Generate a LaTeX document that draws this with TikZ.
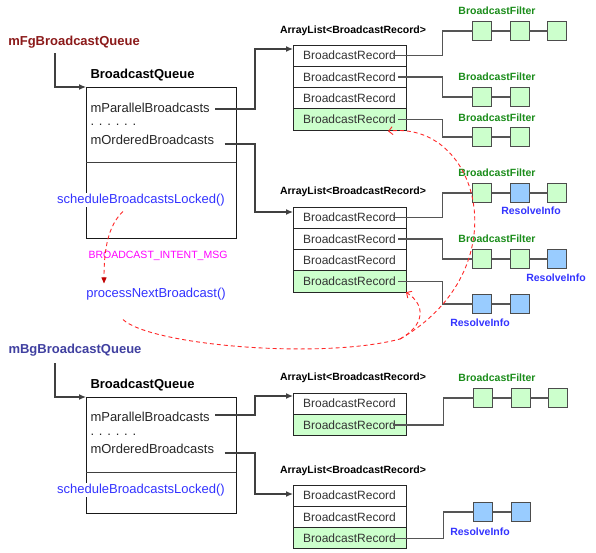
\documentclass[tikz,border=0pt]{standalone}
\usepackage{fontspec}
\setmainfont{Liberation Sans}
\usetikzlibrary{arrows.meta,positioning,calc}

\definecolor{fgred}{RGB}{139,26,26}
\definecolor{bgblue}{RGB}{64,64,160}
\definecolor{methodblue}{RGB}{51,51,255}
\definecolor{filtergreen}{RGB}{26,140,26}
\definecolor{msgmagenta}{RGB}{255,0,255}
\definecolor{recgreen}{RGB}{204,255,204}
\definecolor{infoblue}{RGB}{153,204,255}
\definecolor{flowred}{RGB}{255,40,40}
\definecolor{tipred}{RGB}{192,0,0}
\definecolor{linkgrey}{RGB}{85,85,85}

\tikzset{every picture/.style={line width=1pt}}
\tikzset{
  qbox/.style={draw=black!90, minimum width=150, inner sep=0, outer sep=0},
  rec/.style={draw=black!85, fill=white, minimum width=113, minimum height=21.3, inner sep=0, outer sep=0, text=black!80, font=\fontsize{12}{14}\selectfont},
  greenrec/.style={fill=recgreen},
  filt/.style={draw=black!70, fill=recgreen, minimum size=19, inner sep=0, outer sep=0},
  info/.style={filt, fill=infoblue},
  member/.style={inner sep=1, text=black!85, font=\fontsize{13}{15}\selectfont},
  method/.style={inner sep=1, fill=white, text=methodblue, font=\fontsize{13}{15}\selectfont},
  title/.style={inner sep=1, font=\fontsize{13}{15}\selectfont\bfseries},
  listtitle/.style={inner sep=1, font=\fontsize{10.5}{12}\selectfont\bfseries},
  filterlabel/.style={inner sep=1, text=filtergreen, font=\fontsize{10.5}{12}\selectfont\bfseries},
  infolabel/.style={inner sep=1, text=methodblue, font=\fontsize{10.5}{12}\selectfont\bfseries},
  ptr/.style={draw=black!75, line width=1.2pt, -{Latex[length=7pt,width=6pt]}},
  link/.style={draw=linkgrey, line width=1.2pt},
  flow/.style={draw=flowred, dashed, dash pattern=on 4pt off 3pt, line width=0.9pt},
  barb/.style={-{Straight Barb[length=4pt,width=8pt]}}
}

\begin{document}
\begin{tikzpicture}[x=1pt,y=1pt,yscale=-1,xscale=1]
\useasboundingbox (0,0) rectangle (596,552);

%%%%% foreground queue
% Text Node
\node[title, text=fgred] (fglabel) at (74,42) {mFgBroadcastQueue};
\coordinate (fgtail) at (55,53);
% Text Node
\node[title, anchor=west] (fgtitle) at (89,75) {BroadcastQueue};
% Queue box
\node[qbox, minimum height=151, anchor=north west] (fgbox) at (86,87) {};
\draw[draw=black!75] (86,162) -- (236,162);
\draw[ptr] (fgtail) |- (fgbox.north west);
% Text Node
\node[member, anchor=west] (fgpar) at (89,108) {mParallelBroadcasts};
\node[member, anchor=west] (fgdots) at (89,125) {. . . . . .};
\node[member, anchor=west] (fgord) at (89,140) {mOrderedBroadcasts};
\node[method] (sched1) at (141,200) {scheduleBroadcastsLocked()};

% message and handler
\node[inner sep=1, text=msgmagenta, font=\fontsize{10.5}{12}\selectfont] (msg) at (158,256) {BROADCAST\_INTENT\_MSG};
\node[method] (proc) at (156,294) {processNextBroadcast()};

%%%%% parallel list (fg)
\node[listtitle] (l1title) at (353,31) {ArrayList<BroadcastRecord>};
\node[rec, anchor=north west] (r11) at (293,45) {BroadcastRecord};
\node[rec, below=0pt of r11] (r12) {BroadcastRecord};
\node[rec, below=0pt of r12] (r13) {BroadcastRecord};
\node[rec, greenrec, below=0pt of r13] (r14) {BroadcastRecord};

%%%%% ordered list (fg)
\node[listtitle] (l2title) at (353,192) {ArrayList<BroadcastRecord>};
\node[rec, anchor=north west] (r21) at (293,207) {BroadcastRecord};
\node[rec, below=0pt of r21] (r22) {BroadcastRecord};
\node[rec, below=0pt of r22] (r23) {BroadcastRecord};
\node[rec, greenrec, below=0pt of r23] (r24) {BroadcastRecord};

%Straight Lines: queue -> lists
\draw[ptr] ($(fgpar.east)+(4,1)$) -| ($(r11.north west)+(-38,4)$) -- ($(r11.north west)+(0,4)$);
\draw[ptr] ($(fgord.east)+(9,4)$) -| ($(r21.north west)+(-38,5)$) -- ($(r21.north west)+(0,5)$);

%%%%% receivers of list 1
\node[filt] (f11a) at (482,31) {};
\node[filt, right=18.5 of f11a] (f11b) {};
\node[filt, right=18.5 of f11b] (f11c) {};
\node[filterlabel] at ($(f11a)+(15,-20)$) {BroadcastFilter};
\node[filt] (f12a) at (482,97) {};
\node[filt, right=18.5 of f12a] (f12b) {};
\node[filterlabel] at ($(f12a)+(15,-20)$) {BroadcastFilter};
\node[filt] (f14a) at (482,137) {};
\node[filt, right=18.5 of f14a] (f14b) {};
\node[filterlabel] at ($(f14a)+(15,-19)$) {BroadcastFilter};
\draw[link] (f11a.east) -- (f11b.west) (f11b.east) -- (f11c.west);
\draw[link] (f12a.east) -- (f12b.west);
\draw[link] (f14a.east) -- (f14b.west);
\draw[link] ($(r11.east)+(-13,0)$) -| ($(f11a.west)+(-30,0)$) -- (f11a.west);
\draw[link] ($(r12.east)+(-8,0)$) -| ($(f12a.west)+(-30,0)$) -- (f12a.west);
\draw[link] ($(r14.east)+(-8,0)$) -| ($(f14a.west)+(-30,0)$) -- (f14a.west);

%%%%% receivers of list 2
\node[filt] (f21a) at (482,193) {};
\node[info, right=18.5 of f21a] (f21b) {};
\node[filt, right=18.5 of f21b] (f21c) {};
\node[filterlabel] at ($(f21a)+(15,-20)$) {BroadcastFilter};
\node[infolabel] at ($(f21b)+(11.5,18)$) {ResolveInfo};
\node[filt] (f22a) at (482,259) {};
\node[filt, right=18.5 of f22a] (f22b) {};
\node[info, right=18.5 of f22b] (f22c) {};
\node[filterlabel] at ($(f22a)+(15,-20)$) {BroadcastFilter};
\node[infolabel] at ($(f22c)+(-1,19)$) {ResolveInfo};
\node[info] (f24a) at (482,304) {};
\node[info, right=18.5 of f24a] (f24b) {};
\node[infolabel] at ($(f24a)+(-2,19)$) {ResolveInfo};
\draw[link] (f21a.east) -- (f21b.west) (f21b.east) -- (f21c.west);
\draw[link] (f22a.east) -- (f22b.west) (f22b.east) -- (f22c.west);
\draw[link] (f24a.east) -- (f24b.west);
\draw[link] ($(r21.east)+(-13,0)$) -| ($(f21a.west)+(-30,0)$) -- (f21a.west);
\draw[link] ($(r22.east)+(-8,0)$) -| ($(f22a.west)+(-30,0)$) -- (f22a.west);
\draw[link] ($(r24.east)+(-8,0)$) -| ($(f24a.west)+(-30,0)$) -- (f24a.west);

%%%%% background queue
% Text Node
\node[title, text=bgblue] (bglabel) at (75,350) {mBgBroadcastQueue};
\coordinate (bgtail) at (55,363);
% Text Node
\node[title, anchor=west] (bgtitle) at (89,385) {BroadcastQueue};
\node[qbox, minimum height=116, anchor=north west] (bgbox) at (86,397) {};
\draw[draw=black!75] (86,472) -- (236,472);
\draw[ptr] (bgtail) |- (bgbox.north west);
\node[member, anchor=west] (bgpar) at (89,417) {mParallelBroadcasts};
\node[member, anchor=west] (bgdots) at (89,435) {. . . . . .};
\node[member, anchor=west] (bgord) at (89,449) {mOrderedBroadcasts};
\node[method] (sched2) at (141,490) {scheduleBroadcastsLocked()};

%%%%% parallel list (bg)
\node[listtitle] (l3title) at (353,378) {ArrayList<BroadcastRecord>};
\node[rec, anchor=north west] (r31) at (293,393) {BroadcastRecord};
\node[rec, greenrec, below=0pt of r31] (r32) {BroadcastRecord};

%%%%% ordered list (bg)
\node[listtitle] (l4title) at (353,471) {ArrayList<BroadcastRecord>};
\node[rec, anchor=north west] (r41) at (293,485) {BroadcastRecord};
\node[rec, below=0pt of r41] (r42) {BroadcastRecord};
\node[rec, greenrec, below=0pt of r42] (r43) {BroadcastRecord};

\draw[ptr] ($(bgpar.east)+(4,-2)$) -| ($(r31.north west)+(-38,3)$) -- ($(r31.north west)+(0,3)$);
\draw[ptr] ($(bgord.east)+(9,4)$) -| ($(r41.north west)+(-38,9)$) -- ($(r41.north west)+(0,9)$);

%%%%% receivers of list 3 and 4
\node[filt] (f32a) at (483,398) {};
\node[filt, right=18.5 of f32a] (f32b) {};
\node[filt, right=18.5 of f32b] (f32c) {};
\node[filterlabel] at ($(f32a)+(14,-20)$) {BroadcastFilter};
\draw[link] (f32a.east) -- (f32b.west) (f32b.east) -- (f32c.west);
\draw[link] ($(r32.east)+(-13,0)$) -| ($(f32a.west)+(-30,0)$) -- (f32a.west);
\node[info] (f43a) at (483,512) {};
\node[info, right=18.5 of f43a] (f43b) {};
\node[infolabel] at ($(f43a)+(-3,20)$) {ResolveInfo};
\draw[link] (f43a.east) -- (f43b.west);
\draw[link] ($(r43.east)+(-13,0)$) -| ($(f43a.west)+(-30,0)$) -- (f43a.west);

%%%%% message flow
\draw[flow, -{Triangle[length=6pt,width=5pt,color=tipred]}] ($(sched1.south)+(-18,4)$) .. controls ($(sched1.south)+(-33,18)$) and ($(proc.north)+(-52,-37)$) .. ($(proc.north)+(-52,-3)$);
\coordinate (split) at (400,339);
\draw[flow] ($(proc.south)+(-33,18)$) .. controls (150,345) and (320,360) .. (split);
\draw[flow, barb] (split) .. controls (425,325) and (426,305) .. (r24.south east);
\draw[flow, barb] (split) .. controls (520,270) and (480,120) .. ($(r14.south east)+(-18,1)$);

\end{tikzpicture}
\end{document}
